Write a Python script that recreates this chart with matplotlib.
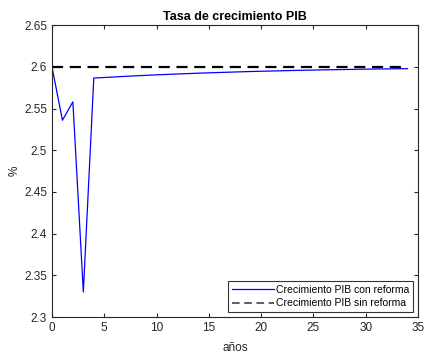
import numpy as np
import matplotlib.pyplot as plt

plt.rcParams['font.family'] = ['Liberation Sans', 'DejaVu Sans']

# años y tasa de crecimiento
anios = list(range(0, 35))
pib_reforma = [2.600, 2.536, 2.558, 2.330,
               2.5865, 2.5872, 2.5879, 2.5886, 2.5892, 2.5898, 2.5904, 2.5909,
               2.5914, 2.5919, 2.5924, 2.5928, 2.5932, 2.5936, 2.5940, 2.5944,
               2.5947, 2.5950, 2.5953, 2.5956, 2.5959, 2.5961, 2.5964, 2.5966,
               2.5968, 2.5970, 2.5972, 2.5974, 2.5975, 2.5977, 2.5978]
pib_sin_reforma = [2.6] * 35

fig = plt.figure(figsize=(4.26, 3.54), dpi=100)
ax = fig.add_axes([0.122, 0.1045, 0.859, 0.8245])

ax.plot(anios, pib_reforma, color='blue', lw=0.9, label='Crecimiento PIB con reforma')
ax.plot(anios, pib_sin_reforma, color='black', lw=1.6, ls=(0, (5, 3)),
        label='Crecimiento PIB sin reforma')

ax.set_xlim(0, 35)
ax.set_ylim(2.3, 2.65)
ax.set_xticks(np.arange(0, 36, 5))
ax.set_yticks(np.arange(2.3, 2.651, 0.05))
ax.set_yticklabels(['2.3', '2.35', '2.4', '2.45', '2.5', '2.55', '2.6', '2.65'])
ax.tick_params(direction='in', labelsize=8.5, length=3, top=True, right=True,
               colors='#262626', labelcolor='#262626')
for sp_ in ax.spines.values():
    sp_.set_color('#262626')
    sp_.set_linewidth(0.8)

ax.set_xlabel('años', fontsize=8.5, color='#262626', labelpad=6)
ax.set_ylabel('%', fontsize=8.5, color='#262626')
ax.yaxis.set_label_coords(-0.085, 0.5)
ax.set_title('Tasa de crecimiento PIB', fontsize=9, fontweight='bold', pad=4)

leg = ax.legend(loc='lower right', fontsize=7.5, frameon=True, fancybox=False,
                edgecolor='black', handlelength=4, handletextpad=0.2,
                borderpad=0.35, labelspacing=0.35, borderaxespad=0.5)
leg.get_frame().set_linewidth(0.8)
leg.legend_handles[1].set_linewidth(1.1)
leg.legend_handles[1].set_color('#333333')

fig.savefig('out.png', dpi=100)
